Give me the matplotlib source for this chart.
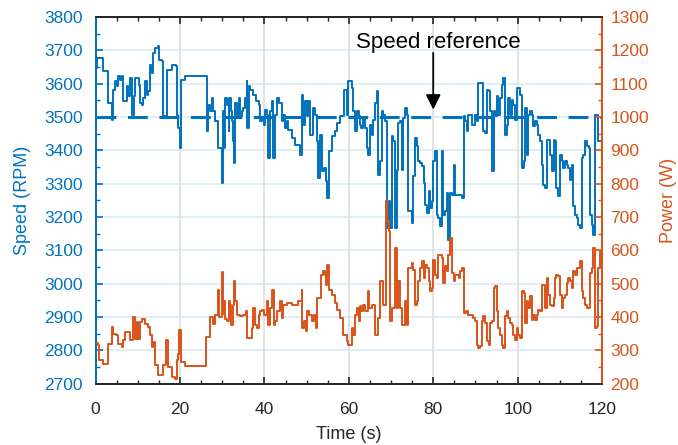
import matplotlib
matplotlib.use("Agg")
import matplotlib.pyplot as plt
import numpy as np

plt.rcParams['font.family'] = ['Liberation Sans', 'DejaVu Sans']

BLUE = '#0072BD'
ORANGE = '#D95319'
DARK = '#262626'

# speed readings (time s, RPM)
t_speed = [0, 0.41, 1.83, 3.02, 3.57, 3.81, 4.04, 4.6, 5.0, 5.4, 5.78, 6.2, 6.57, 7.36,
           7.76, 8.15, 8.55, 9.0, 9.4, 9.8, 10.2, 10.5, 10.9, 11.3, 11.7, 12.1, 12.5,
           12.9, 13.3, 13.7, 14.1, 14.9, 15.0, 15.7, 16.05, 16.8, 17.0, 18.0, 19.05,
           19.2, 19.6, 20.0, 20.15, 21.2, 25.9, 26.3, 26.7, 27.1, 27.5, 27.9, 28.3,
           29.1, 29.9, 30.3, 30.5, 30.7, 31.06, 31.5, 31.7, 32.0, 32.3, 32.6, 32.9,
           33.1, 33.6, 33.9, 34.2, 34.6, 35.0, 35.4, 35.8, 35.9, 36.3, 36.7, 37.4,
           38.0, 38.6, 38.95, 39.4, 39.8, 40.1, 40.5, 40.9, 41.3, 41.7, 41.97, 42.4,
           42.9, 43.5, 44.1, 44.5, 44.9, 45.3, 45.7, 46.5, 47.3, 48.4, 48.8, 49.2,
           49.6, 50.0, 50.4, 50.8, 51.4, 52.0, 52.4, 52.8, 53.2, 53.6, 54.1, 54.6,
           54.9, 55.2, 55.9, 56.7, 57.1, 57.9, 58.86, 59.5, 59.9, 60.7, 61.1, 61.5,
           61.9, 62.3, 62.65, 63.0, 63.4, 63.8, 64.2, 64.6, 65.0, 65.4, 65.8, 66.2,
           66.6, 67.0, 67.4, 67.8, 68.2, 68.6, 69.0, 69.4, 69.8, 70.2, 70.5, 70.95,
           71.3, 71.7, 72.1, 72.5, 72.9, 73.3, 73.7, 74.1, 74.9, 75.3, 75.7, 76.1,
           76.5, 76.9, 77.3, 77.7, 78.1, 78.5, 78.9, 79.3, 79.6, 80.0, 80.4, 80.8,
           81.2, 81.6, 82.0, 82.4, 82.8, 83.2, 83.6, 84.0, 84.4, 84.8, 85.2, 86.75,
           86.9, 87.2, 87.5, 87.9, 88.3, 89.1, 89.9, 90.3, 90.7, 91.5, 91.9, 92.3,
           92.7, 93.1, 93.5, 93.9, 94.3, 94.6, 95.0, 95.4, 95.8, 96.2, 96.6, 97.0,
           97.4, 97.8, 98.2, 98.6, 99.0, 99.4, 99.8, 100.6, 101.0, 101.4, 101.8,
           102.1, 102.5, 102.9, 103.3, 103.7, 104.1, 104.5, 104.9, 105.3, 105.7,
           106.1, 106.5, 106.9, 107.3, 107.7, 108.1, 108.5, 108.9, 109.2, 109.6,
           110.0, 110.4, 110.8, 111.2, 111.6, 112.0, 112.4, 112.8, 113.2, 113.6,
           114.0, 114.4, 114.8, 115.2, 115.6, 116.0, 116.4, 116.8, 117.1, 117.5,
           117.9, 118.3, 118.7, 119.1, 119.5, 120.0]
speed = [3647, 3677, 3637, 3542, 3542, 3492, 3582, 3607, 3592, 3622, 3612, 3622, 3547, 3592,
         3562, 3617, 3507, 3562, 3617, 3617, 3597, 3542, 3537, 3557, 3607, 3567, 3577,
         3657, 3632, 3692, 3707, 3712, 3672, 3667, 3502, 3502, 3642, 3657, 3652,
         3507, 3467, 3407, 3612, 3622, 3622, 3457, 3537, 3517, 3557, 3517, 3487,
         3407, 3302, 3517, 3407, 3557, 3537, 3457, 3557, 3517, 3487, 3427, 3362,
         3542, 3502, 3557, 3502, 3517, 3527, 3557, 3607, 3467, 3592, 3582, 3567,
         3547, 3537, 3487, 3497, 3477, 3522, 3507, 3377, 3517, 3547, 3377, 3507,
         3557, 3542, 3487, 3507, 3467, 3487, 3462, 3437, 3417, 3387, 3567, 3477,
         3547, 3502, 3547, 3447, 3527, 3507, 3427, 3317, 3447, 3337, 3347, 3307,
         3257, 3397, 3442, 3457, 3482, 3502, 3582, 3507, 3607, 3587, 3517, 3457,
         3517, 3502, 3477, 3467, 3497, 3467, 3407, 3387, 3477, 3447, 3492, 3542,
         3577, 3327, 3367, 3517, 3507, 3487, 3167, 3247, 3167, 3442, 3427, 3167,
         3342, 3482, 3487, 3342, 3497, 3527, 3507, 3217, 3182, 3322, 3437, 3412,
         3367, 3362, 3352, 3302, 3237, 3212, 3277, 3227, 3247, 3367, 3397, 3207,
         3197, 3172, 3397, 3207, 3217, 3272, 3132, 3272, 3267, 3357, 3267, 3267,
         3257, 3502, 3487, 3457, 3507, 3477, 3507, 3487, 3602, 3602, 3457, 3452,
         3582, 3577, 3517, 3337, 3517, 3502, 3562, 3507, 3557, 3597, 3617, 3447,
         3477, 3557, 3507, 3552, 3537, 3492, 3587, 3567, 3347, 3367, 3527,
         3387, 3507, 3517, 3507, 3472, 3487, 3477, 3447, 3427, 3357,
         3297, 3287, 3432, 3432, 3387, 3337, 3432, 3427, 3287, 3262,
         3387, 3367, 3347, 3367, 3357, 3347, 3312, 3357, 3232, 3207,
         3197, 3177, 3167, 3377, 3387, 3427, 3412, 3407, 3207, 3177,
         3147, 3507, 3507, 3427, 3427, 3427]

# power readings (time s, W)
t_power = [0, 0.65, 0.9, 1.8, 2.2, 3.0, 3.8, 4.0, 4.2, 4.8, 5.4, 6.2, 6.6, 7.0, 7.8,
           8.15, 8.8, 8.95, 9.35, 9.7, 10.1, 10.5, 10.9, 11.7, 12.5, 12.9, 13.3, 13.7,
           14.1, 14.9, 15.9, 16.05, 16.7, 17.2, 17.6, 18.0, 18.8, 19.2, 19.6, 19.85,
           20.15, 21.2, 25.9, 26.1, 26.7, 27.0, 27.7, 28.3, 28.9, 29.3, 29.9, 30.3,
           30.5, 30.7, 31.06, 31.5, 31.8, 32.2, 32.6, 32.9, 33.1, 33.4, 34.2, 35.0,
           35.6, 35.9, 36.6, 36.98, 37.4, 37.8, 38.2, 38.6, 38.95, 39.4, 39.8, 40.5,
           40.9, 41.3, 41.9, 42.2, 42.6, 42.9, 43.7, 44.1, 44.5, 45.3, 46.5, 48.05,
           48.8, 48.85, 49.4, 49.9, 50.2, 50.6, 51.2, 51.8, 52.2, 52.5, 53.2, 53.3,
           53.97, 54.4, 54.6, 54.9, 55.2, 55.9, 56.7, 57.3, 57.9, 58.7, 59.5, 59.9,
           60.7, 61.1, 61.5, 61.9, 62.3, 62.65, 63.0, 63.4, 63.8, 64.2, 64.6, 64.8,
           65.4, 66.0, 66.2, 66.8, 67.0, 67.4, 67.9, 68.2, 68.6, 68.75, 69.0, 69.4,
           69.8, 70.2, 70.5, 70.95, 71.3, 71.7, 72.1, 72.5, 73.3, 73.7, 74.1, 74.5,
           74.9, 75.3, 75.7, 76.1, 76.5, 76.9, 77.3, 77.7, 78.1, 78.5, 78.9, 79.3,
           79.6, 80.0, 80.4, 80.8, 81.2, 81.6, 82.0, 82.4, 82.8, 83.2, 83.6, 84.0,
           84.4, 84.8, 85.2, 86.0, 86.4, 86.9, 87.2, 87.7, 88.3, 89.5, 89.9, 90.3,
           90.7, 91.1, 91.5, 91.9, 92.3, 92.7, 93.1, 93.5, 93.9, 94.3, 94.6, 95.0,
           95.4, 95.8, 96.2, 96.6, 97.0, 97.4, 97.8, 98.2, 98.6, 99.0, 99.4, 99.8,
           100.2, 100.6, 101.0, 101.4, 101.8, 102.1, 102.5, 102.9, 103.3, 103.7,
           104.1, 104.5, 104.9, 105.3, 105.7, 106.1, 106.5, 106.9, 107.3, 107.7,
           108.1, 108.5, 108.9, 109.2, 109.6, 110.0, 110.4, 110.8, 111.2, 111.6,
           112.0, 112.4, 112.8, 113.2, 113.6, 114.0, 114.4, 114.8, 115.2, 115.6,
           116.0, 116.4, 116.8, 117.1, 117.5, 117.9, 118.3, 118.7, 119.1, 119.5, 120.0]
power = [322, 315, 270, 260, 260, 320, 320, 370, 350, 345, 320, 310, 330, 355, 355,
         330, 360, 400, 335, 385, 335, 385, 395, 380, 370, 345, 310, 325,
         255, 225, 225, 255, 330, 250, 250, 220, 215, 270, 290, 360,
         265, 253, 253, 340, 340, 400, 380, 405, 480, 400, 535, 410,
         447, 395, 387, 447, 437, 377, 437, 507, 447, 407, 402, 407,
         417, 337, 337, 367, 427, 377, 367, 407, 417, 422, 407, 447,
         377, 427, 482, 377, 387, 417, 447, 397, 437, 442, 437, 447,
         482, 367, 387, 357, 417, 407, 387, 407, 367, 457, 457, 527,
         537, 527, 497, 557, 482, 467, 442, 422, 397, 347, 327, 317,
         367, 347, 407, 427, 387, 432, 417, 437, 417, 417, 477, 427,
         437, 437, 347, 347, 397, 507, 507, 437, 437, 747, 687, 657,
         387, 427, 427, 607, 427, 507, 427, 377, 447, 377, 547, 547,
         562, 542, 437, 447, 507, 547, 567, 517, 557, 547, 507, 477,
         487, 572, 527, 517, 587, 587, 577, 502, 552, 537, 587, 637,
         532, 507, 527, 517, 537, 547, 412, 417, 407, 397, 387, 317,
         307, 312, 387, 402, 382, 327, 317, 382, 387, 487, 492, 417,
         367, 347, 317, 307, 402, 417, 397, 382, 377, 347, 332, 367,
         347, 337, 477, 472, 382, 447, 427, 462, 392, 407,
         392, 407, 422, 417, 497, 497, 427, 517, 467, 437,
         432, 457, 517, 527, 522, 467, 427, 457, 467, 502,
         517, 507, 487, 537, 527, 547, 547, 567, 477, 457,
         437, 427, 427, 532, 547, 607, 367, 372, 547, 597, 560]

speed_ref = 3500

fig = plt.figure(figsize=(6.78, 4.45), dpi=100)
ax = fig.add_axes([0.141, 0.138, 0.747, 0.824])
ax2 = ax.twinx()

ax.step(t_speed, speed, where='post', color=BLUE, lw=1.4, zorder=3)
ax.plot([0, 120], [speed_ref, speed_ref], color=BLUE, lw=2.2,
        dashes=(6.5, 3.8), zorder=4)
ax2.step(t_power, power, where='post', color=ORANGE, lw=1.4, zorder=3)

ax.set_xlim(0, 120)
ax.set_ylim(2700, 3800)
ax2.set_ylim(200, 1300)
ax.set_xticks(np.arange(0, 121, 20))
ax.set_xticks(np.arange(0, 121, 5), minor=True)
ax.set_yticks(np.arange(2700, 3801, 100))
ax.set_yticks(np.arange(2700, 3801, 50), minor=True)
ax2.set_yticks(np.arange(200, 1301, 100))
ax2.set_yticks(np.arange(200, 1301, 50), minor=True)

# grid like matlab yyaxis
for yv in np.arange(2800, 3800, 100):
    ax.axhline(yv, color='#d9eaf5', lw=1.2, zorder=0)
for xv in np.arange(20, 120, 20):
    ax.axvline(xv, color='#dedede', lw=1.2, zorder=0)

ax.tick_params(axis='x', which='both', direction='in', top=True, colors=DARK,
               labelsize=12.5, pad=13)
ax.tick_params(axis='x', which='major', length=5, width=1.2)
ax.tick_params(axis='x', which='minor', length=3, width=1.0)
ax.tick_params(axis='y', which='both', direction='in', colors=BLUE,
               labelsize=12.5, pad=9)
ax.tick_params(axis='y', which='major', length=5, width=1.2)
ax.tick_params(axis='y', which='minor', length=3, width=1.0)
ax2.tick_params(axis='y', which='both', direction='in', colors=ORANGE,
                labelsize=12.5, pad=6)
ax2.tick_params(axis='y', which='major', length=5, width=1.2)
ax2.tick_params(axis='y', which='minor', length=3, width=1.0)

for a in (ax, ax2):
    a.spines['top'].set_color(DARK)
    a.spines['bottom'].set_color(DARK)
    a.spines['left'].set_color(BLUE)
    a.spines['right'].set_color(ORANGE)
    for s in a.spines.values():
        s.set_linewidth(1.3)

ax.set_xlabel('Time (s)', fontsize=13, color=DARK, labelpad=7)
ax.set_ylabel('Speed (RPM)', fontsize=13, color=BLUE, labelpad=10)
ax2.set_ylabel('Power (W)', fontsize=13, color=ORANGE, labelpad=8)

ax.text(81.1, 3707, 'Speed reference', fontsize=16, color='black',
        ha='center', va='baseline', zorder=6)
ax.annotate('', xy=(80, 3522), xytext=(80, 3692),
            arrowprops=dict(arrowstyle='-|>,head_length=0.9,head_width=0.45',
                            color='black', lw=1.3, shrinkA=0, shrinkB=0),
            zorder=6)

fig.savefig('out.png', dpi=100)
